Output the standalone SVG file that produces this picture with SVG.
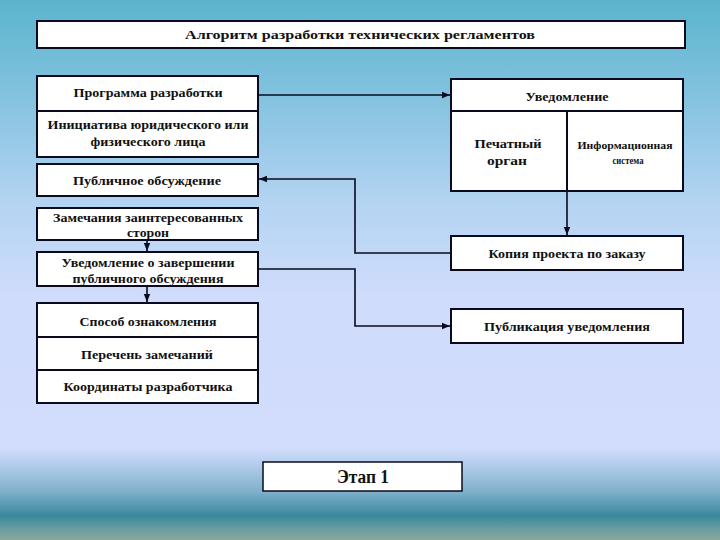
<svg xmlns="http://www.w3.org/2000/svg" width="720" height="540" viewBox="0 0 720 540">
<defs>
<linearGradient id="bg" x1="0" y1="0" x2="0" y2="1">
<stop offset="0" stop-color="#5cb4cc"/>
<stop offset="0.15" stop-color="#7cc0dc"/>
<stop offset="0.38" stop-color="#b4d4f2"/>
<stop offset="0.55" stop-color="#d0dcfc"/>
<stop offset="0.83" stop-color="#d2dcfc"/>
<stop offset="0.87" stop-color="#a8c8e6"/>
<stop offset="0.91" stop-color="#80b0cc"/>
<stop offset="0.955" stop-color="#3a889c"/>
<stop offset="0.98" stop-color="#6a9ea0"/>
<stop offset="1" stop-color="#8aa898"/>
</linearGradient>
<marker id="ah" viewBox="0 0 10 10" refX="10" refY="5" markerWidth="5" markerHeight="5" orient="auto">
<path d="M0,1 L10,5 L0,9 z" fill="#0a0a1e"/>
</marker>
<style>
.box{fill:#fff;stroke:#0a0a1e;stroke-width:2}
.ln{fill:none;stroke:#0a0a1e;stroke-width:1.6}
.dv{stroke:#0a0a1e;stroke-width:2}
.t{font-family:"Liberation Serif","DejaVu Serif","Times New Roman",serif;font-weight:bold;font-size:13px;fill:#111;text-anchor:middle}
.s{font-size:10.5px}
.big{font-size:18px}
</style>
</defs>
<rect x="0" y="0" width="720" height="540" fill="url(#bg)"/>

<g id="title">
<rect class="box" x="37" y="21" width="648" height="27"/>
<text class="t" x="360" y="39" textLength="350" lengthAdjust="spacingAndGlyphs">Алгоритм разработки технических регламентов</text>
</g>

<g id="programma">
<rect class="box" x="37" y="76" width="221" height="81"/>
<line class="dv" x1="37" y1="111" x2="258" y2="111"/>
<text class="t" x="148" y="97" textLength="149" lengthAdjust="spacingAndGlyphs">Программа разработки</text>
<text class="t" x="148" y="129" textLength="201" lengthAdjust="spacingAndGlyphs">Инициатива юридического или</text>
<text class="t" x="148" y="146" textLength="115" lengthAdjust="spacingAndGlyphs">физического лица</text>
</g>

<g id="publichnoe">
<rect class="box" x="37" y="164" width="221" height="32"/>
<text class="t" x="147" y="185" textLength="148" lengthAdjust="spacingAndGlyphs">Публичное обсуждение</text>
</g>

<g id="zamechaniya">
<rect class="box" x="37" y="208" width="221" height="32"/>
<text class="t" x="148" y="222" textLength="190" lengthAdjust="spacingAndGlyphs">Замечания заинтересованных</text>
<text class="t" x="148" y="237" textLength="42" lengthAdjust="spacingAndGlyphs">сторон</text>
</g>

<g id="uvedomlenie-zaversh">
<rect class="box" x="37" y="252" width="221" height="34"/>
<text class="t" x="148" y="267" textLength="173" lengthAdjust="spacingAndGlyphs">Уведомление о завершении</text>
<text class="t" x="148" y="283" textLength="151" lengthAdjust="spacingAndGlyphs">публичного обсуждения</text>
</g>

<g id="sposob">
<rect class="box" x="37" y="303" width="221" height="100"/>
<line class="dv" x1="37" y1="337" x2="258" y2="337"/>
<line class="dv" x1="37" y1="370" x2="258" y2="370"/>
<text class="t" x="148" y="326" textLength="137" lengthAdjust="spacingAndGlyphs">Способ ознакомления</text>
<text class="t" x="147" y="359" textLength="132" lengthAdjust="spacingAndGlyphs">Перечень замечаний</text>
<text class="t" x="148" y="391" textLength="169" lengthAdjust="spacingAndGlyphs">Координаты разработчика</text>
</g>

<g id="uvedomlenie">
<rect class="box" x="451" y="79" width="232" height="112"/>
<line class="dv" x1="451" y1="111" x2="683" y2="111"/>
<line class="dv" x1="567" y1="111" x2="567" y2="191"/>
<text class="t" x="567" y="101" textLength="83" lengthAdjust="spacingAndGlyphs">Уведомление</text>
<text class="t" x="508" y="148" textLength="67" lengthAdjust="spacingAndGlyphs">Печатный</text>
<text class="t" x="507" y="165" textLength="40" lengthAdjust="spacingAndGlyphs">орган</text>
<text class="t s" x="625" y="149" textLength="95" lengthAdjust="spacingAndGlyphs">Информационная</text>
<text class="t s" x="628" y="164" textLength="31" lengthAdjust="spacingAndGlyphs">система</text>
</g>

<g id="kopiya">
<rect class="box" x="451" y="236" width="232" height="34"/>
<text class="t" x="567" y="258" textLength="157" lengthAdjust="spacingAndGlyphs">Копия проекта по заказу</text>
</g>

<g id="publikaciya">
<rect class="box" x="451" y="309" width="232" height="34"/>
<text class="t" x="567" y="331" textLength="166" lengthAdjust="spacingAndGlyphs">Публикация уведомления</text>
</g>

<g id="etap">
<rect class="box" x="263" y="462" width="199" height="29" style="stroke-width:1.5"/>
<text class="t big" x="363" y="483" textLength="52" lengthAdjust="spacingAndGlyphs">Этап 1</text>
</g>

<g id="connectors">
<path class="ln" d="M258,95 H450" marker-end="url(#ah)"/>
<path class="ln" d="M451,253 H355 V179 H259" marker-end="url(#ah)"/>
<path class="ln" d="M258,269 H355 V326 H450" marker-end="url(#ah)"/>
<path class="ln" d="M567,191 V235" marker-end="url(#ah)"/>
<path class="ln" d="M147,240 V251" marker-end="url(#ah)"/>
<path class="ln" d="M147,286 V302" marker-end="url(#ah)"/>
</g>
</svg>
